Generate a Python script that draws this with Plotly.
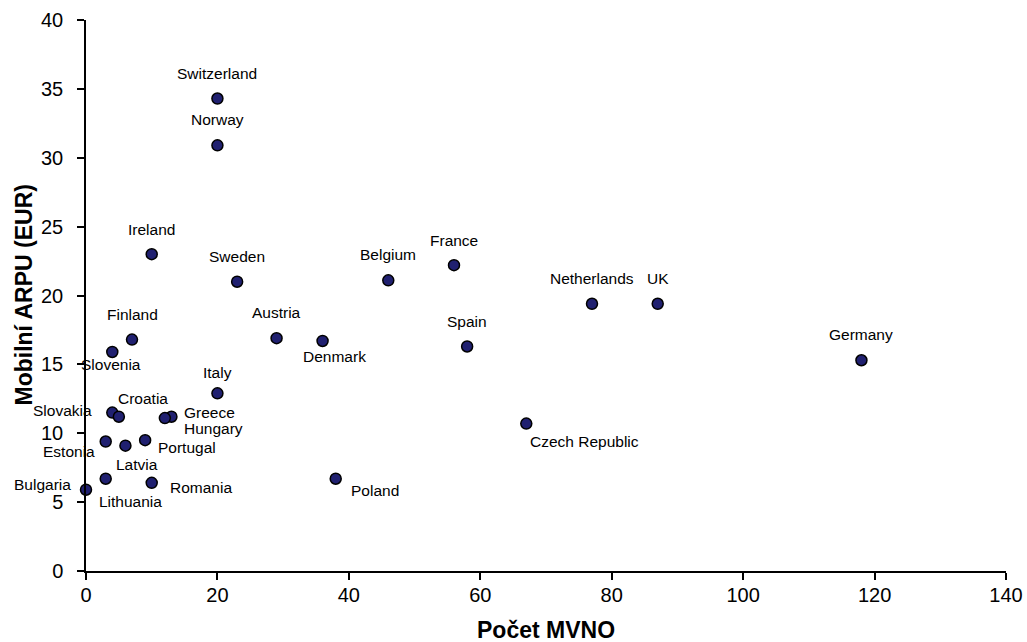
import plotly.graph_objects as go

# ---- data ----
countries = ["Switzerland", "Norway", "Ireland", "Sweden", "Belgium", "France",
             "Netherlands", "UK", "Spain", "Denmark", "Austria", "Poland",
             "Czech Republic", "Germany", "Finland", "Slovenia", "Italy",
             "Slovakia", "Croatia", "Greece", "Hungary", "Estonia", "Latvia",
             "Portugal", "Bulgaria", "Lithuania", "Romania"]
mvno_count = [20, 20, 10, 23, 46, 56, 77, 87, 58, 36, 29, 38, 67, 118, 7, 4, 20,
              4, 5, 13, 12, 3, 6, 9, 0, 3, 10]
arpu_eur = [34.3, 30.9, 23.0, 21.0, 21.1, 22.2, 19.4, 19.4, 16.3, 16.7, 16.9, 6.7,
            10.7, 15.3, 16.8, 15.9, 12.9, 11.5, 11.2, 11.2, 11.1, 9.4, 9.1, 9.5,
            5.9, 6.7, 6.4]

x_title = "Počet MVNO"
y_title = "Mobilní ARPU (EUR)"

# ---- label placement (pixel offsets from each point: right, up) ----
label_dx = [0, 0, 0, 0, 0, 0, 0, 0, 0, 12, 0, 39, 58, 0, 0, -1, 0,
            -50, 24, 38, 49, -37, 12, 42, -44, 25, 49]
label_dy = [25, 26, 25, 25, 26, 25, 25, 25, 25, -16, 26, -12, -18, 26, 25, -13, 21,
            2, 18, 4, -10, -10, -19, -7, 5, -23, -5]

FONT = "Arial, Liberation Sans, Helvetica, sans-serif"

fig = go.Figure()
fig.add_trace(go.Scatter(
    x=mvno_count, y=arpu_eur, mode="markers", text=countries,
    hovertemplate="%{text}<br>%{x}, %{y}<extra></extra>",
    marker=dict(size=11, color="#202070", line=dict(color="#000000", width=1.5)),
    cliponaxis=False, showlegend=False,
))

for name, xv, yv, dx, dy in zip(countries, mvno_count, arpu_eur, label_dx, label_dy):
    fig.add_annotation(x=xv, y=yv, text=name, showarrow=False,
                       xanchor="center", yanchor="middle",
                       xshift=dx, yshift=dy,
                       font=dict(family=FONT, size=15.5, color="#000000"))

# axis titles
fig.add_annotation(xref="paper", yref="paper", x=0.5, y=0, yshift=-59,
                   xanchor="center", yanchor="middle", showarrow=False,
                   text=f"<b>{x_title}</b>", font=dict(family=FONT, size=23))
fig.add_annotation(xref="paper", yref="paper", x=0, y=0.5, xshift=-63,
                   xanchor="center", yanchor="middle", showarrow=False,
                   textangle=-90,
                   text=f"<b>{y_title}</b>", font=dict(family=FONT, size=23))

fig.update_layout(
    width=1027, height=642,
    margin=dict(l=86, r=21, t=20, b=71),
    paper_bgcolor="white", plot_bgcolor="white",
    font=dict(family=FONT, color="#000000"),
    xaxis=dict(range=[0, 140], dtick=20, tick0=0, showgrid=False, zeroline=False,
               showline=True, linecolor="#000000", linewidth=1.5,
               ticks="outside", ticklen=7, tickcolor="#000000", tickwidth=1.5,
               ticklabelstandoff=-2, ticklabeloverflow="allow", automargin=False,
               tickfont=dict(family=FONT, size=20)),
    yaxis=dict(range=[0, 40], dtick=5, tick0=0, showgrid=False, zeroline=False,
               showline=True, linecolor="#000000", linewidth=1.5,
               ticks="outside", ticklen=7, tickcolor="#000000", tickwidth=1.5,
               ticklabelstandoff=10, ticklabeloverflow="allow", automargin=False,
               tickfont=dict(family=FONT, size=20)),
)

fig.write_html("out.html", config={"displayModeBar": False},
               post_script="document.body.style.margin='0';document.body.style.overflow='hidden';")
